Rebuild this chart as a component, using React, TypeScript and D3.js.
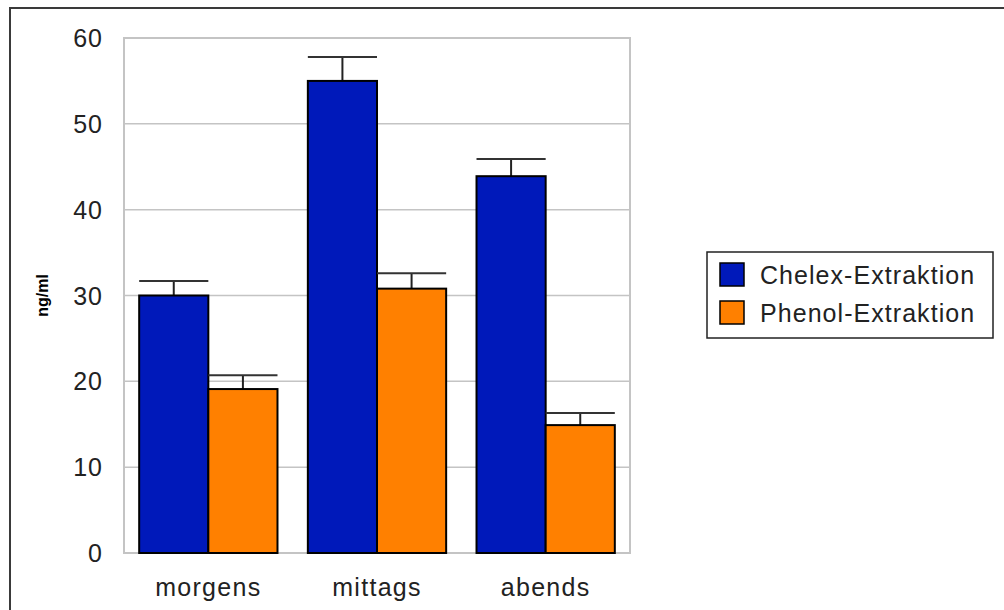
import * as d3 from "d3";
import React from "react";

const categories = ["morgens", "mittags", "abends"];
const seriesNames = ["Chelex-Extraktion", "Phenol-Extraktion"];
const chelexValues = [30, 55, 43.9];
const chelexErrors = [31.7, 57.8, 45.9];
const phenolValues = [19.1, 30.8, 14.9];
const phenolErrors = [20.7, 32.6, 16.3];
const yTicks = [0, 10, 20, 30, 40, 50, 60];

const colors = ["#0019BA", "#FF8000"];
const font = "'Liberation Sans', Arial, sans-serif";

export default function App() {
  const width = 1004;
  const height = 610;
  const plot = { left: 124, right: 630, top: 38, bottom: 553 };

  const x = d3.scaleBand<string>()
    .domain(categories)
    .range([plot.left, plot.right])
    .paddingInner(0.18)
    .paddingOuter(0.09);
  const x1 = d3.scaleBand<string>()
    .domain(seriesNames)
    .range([0, x.bandwidth()]);
  const y = d3.scaleLinear().domain([0, 60]).range([plot.bottom, plot.top]);

  const series = [
    { name: seriesNames[0], values: chelexValues, errors: chelexErrors, color: colors[0] },
    { name: seriesNames[1], values: phenolValues, errors: phenolErrors, color: colors[1] },
  ];

  return (
    <svg width={width} height={height} style={{ position: "absolute", left: 0, top: 0, background: "#fff" }}>
      {/* outer frame */}
      <rect x={10} y={8} width={width + 10} height={height + 10} fill="#fff" stroke="#3a3a3a" strokeWidth={2} />

      {/* grid */}
      {yTicks.map((t) => (
        <g key={t}>
          {t > 0 && t < 60 && (
            <line x1={plot.left} x2={plot.right} y1={y(t)} y2={y(t)} stroke="#c4c4c4" strokeWidth={1.5} />
          )}
          <text x={103} y={y(t)} dy="0.36em" textAnchor="end" fontFamily={font} fontSize={25}
            letterSpacing={1} fill="#222">
            {t}
          </text>
        </g>
      ))}
      <rect x={plot.left} y={plot.top} width={plot.right - plot.left} height={plot.bottom - plot.top}
        fill="none" stroke="#c4c4c4" strokeWidth={2} />

      {/* bars */}
      {series.map((s) =>
        categories.map((c, i) => {
          const bx = (x(c) as number) + (x1(s.name) as number);
          const bw = x1.bandwidth();
          const cx = bx + bw / 2;
          return (
            <g key={s.name + c}>
              <line x1={cx} x2={cx} y1={y(s.values[i])} y2={y(s.errors[i])} stroke="#222" strokeWidth={2} />
              <line x1={bx} x2={bx + bw} y1={y(s.errors[i])} y2={y(s.errors[i])} stroke="#333" strokeWidth={2} />
              <rect x={bx} y={y(s.values[i])} width={bw} height={y(0) - y(s.values[i])}
                fill={s.color} stroke="#000" strokeWidth={2} />
            </g>
          );
        })
      )}

      {/* x labels */}
      {categories.map((c) => (
        <text key={c} x={(x(c) as number) + x.bandwidth() / 2} y={587} dy="0.36em" textAnchor="middle"
          fontFamily={font} fontSize={25} letterSpacing={1.3} fill="#222">
          {c}
        </text>
      ))}

      {/* y title */}
      <text transform={`translate(42,${(plot.top + plot.bottom) / 2}) rotate(-90)`} textAnchor="middle"
        dy="0.36em" fontFamily={font} fontSize={16} fontWeight="bold" fill="#000">
        ng/ml
      </text>

      {/* legend */}
      <rect x={707} y={252} width={286} height={86} fill="#fff" stroke="#222" strokeWidth={1.5} />
      {series.map((s, i) => (
        <g key={s.name} transform={`translate(720,${263 + i * 38})`}>
          <rect width={24} height={23} fill={s.color} stroke="#000" strokeWidth={1.5} />
          <text x={40} y={12} dy="0.36em" fontFamily={font} fontSize={25} letterSpacing={1.05} fill="#222">
            {s.name}
          </text>
        </g>
      ))}
    </svg>
  );
}
